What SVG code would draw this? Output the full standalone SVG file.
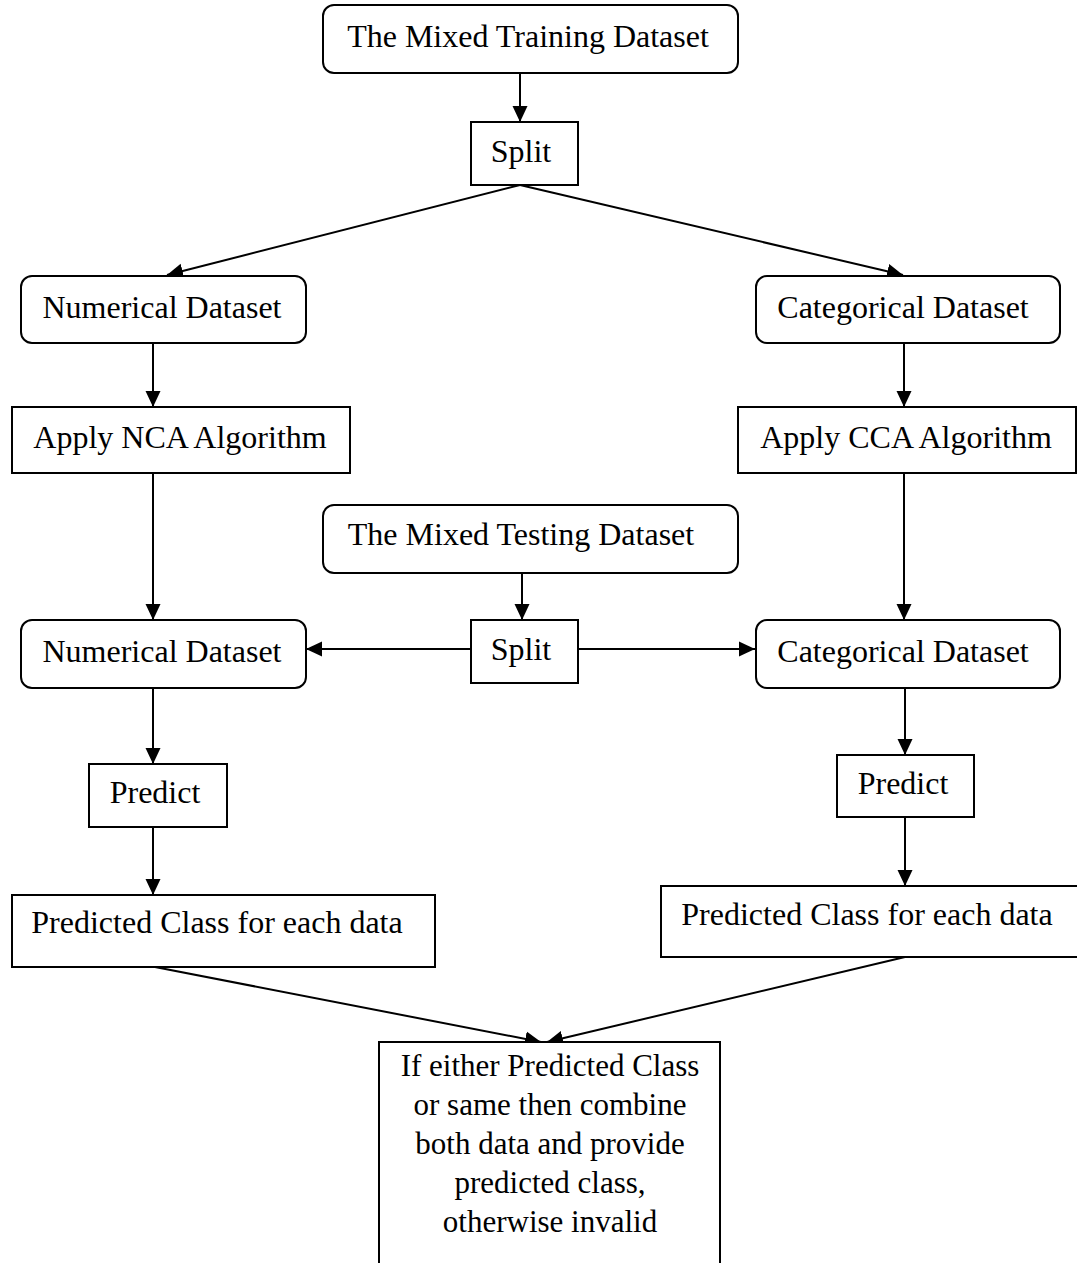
<svg xmlns="http://www.w3.org/2000/svg" width="1077" height="1263" viewBox="0 0 1077 1263">
<style>
.box{fill:#fff;stroke:#000;stroke-width:2}
.t{font-family:"Liberation Serif","Times New Roman",serif;font-size:32px;fill:#000;text-anchor:middle}
.c{stroke:#000;stroke-width:2;fill:none;marker-end:url(#ah)}
</style>
<defs>
<marker id="ah" markerUnits="userSpaceOnUse" markerWidth="16" markerHeight="16" viewBox="0 0 16 16" refX="16" refY="8" orient="auto">
<path d="M0,0.5 L16,8 L0,15.5 Z" fill="#000"/>
</marker>
</defs>
<rect width="1077" height="1263" fill="#fff"/>
<g id="connectors">
<line class="c" x1="520" y1="73" x2="520" y2="122"/>
<line class="c" x1="520" y1="185" x2="167" y2="275"/>
<line class="c" x1="520" y1="185" x2="903" y2="275"/>
<line class="c" x1="153" y1="343" x2="153" y2="407"/>
<line class="c" x1="904" y1="343" x2="904" y2="407"/>
<line class="c" x1="153" y1="473" x2="153" y2="620"/>
<line class="c" x1="904" y1="473" x2="904" y2="620"/>
<line class="c" x1="522" y1="573" x2="522" y2="620"/>
<line class="c" x1="471" y1="649" x2="306" y2="649"/>
<line class="c" x1="578" y1="649" x2="755" y2="649"/>
<line class="c" x1="153" y1="688" x2="153" y2="764"/>
<line class="c" x1="905" y1="688" x2="905" y2="755"/>
<line class="c" x1="153" y1="827" x2="153" y2="895"/>
<line class="c" x1="905" y1="817" x2="905" y2="886"/>
<line class="c" x1="155" y1="967" x2="541" y2="1042"/>
<line class="c" x1="905" y1="957" x2="547" y2="1042"/>
</g>
<g id="train"><rect class="box" x="323" y="5" width="415" height="68" rx="11"/><text class="t" x="528" y="47">The Mixed Training Dataset</text></g>
<g id="split1"><rect class="box" x="471" y="122" width="107" height="63"/><text class="t" x="521" y="162">Split</text></g>
<g id="num1"><rect class="box" x="21" y="276" width="285" height="67" rx="11"/><text class="t" x="162" y="318">Numerical Dataset</text></g>
<g id="cat1"><rect class="box" x="756" y="276" width="304" height="67" rx="11"/><text class="t" x="903" y="318">Categorical Dataset</text></g>
<g id="nca"><rect class="box" x="12" y="407" width="338" height="66"/><text class="t" x="180" y="448">Apply NCA Algorithm</text></g>
<g id="cca"><rect class="box" x="738" y="407" width="338" height="66"/><text class="t" x="906" y="448">Apply CCA Algorithm</text></g>
<g id="test"><rect class="box" x="323" y="505" width="415" height="68" rx="11"/><text class="t" x="521" y="545">The Mixed Testing Dataset</text></g>
<g id="split2"><rect class="box" x="471" y="620" width="107" height="63"/><text class="t" x="521" y="660">Split</text></g>
<g id="num2"><rect class="box" x="21" y="620" width="285" height="68" rx="11"/><text class="t" x="162" y="662">Numerical Dataset</text></g>
<g id="cat2"><rect class="box" x="756" y="620" width="304" height="68" rx="11"/><text class="t" x="903" y="662">Categorical Dataset</text></g>
<g id="predL"><rect class="box" x="89" y="764" width="138" height="63"/><text class="t" x="155" y="803">Predict</text></g>
<g id="predR"><rect class="box" x="837" y="755" width="137" height="62"/><text class="t" x="903" y="794">Predict</text></g>
<g id="classL"><rect class="box" x="12" y="895" width="423" height="72"/><text class="t" x="217" y="933">Predicted Class for each data</text></g>
<g id="classR"><rect class="box" x="661" y="886" width="430" height="71"/><text class="t" x="867" y="925">Predicted Class for each data</text></g>
<g id="final"><rect class="box" x="379" y="1042" width="341" height="240"/>
<text class="t" style="font-size:31px" x="550" y="1076">If either Predicted Class</text>
<text class="t" style="font-size:31px" x="550" y="1115">or same then combine</text>
<text class="t" style="font-size:31px" x="550" y="1154">both data and provide</text>
<text class="t" style="font-size:31px" x="550" y="1193">predicted class,</text>
<text class="t" style="font-size:31px" x="550" y="1232">otherwise invalid</text>
</g>
</svg>
